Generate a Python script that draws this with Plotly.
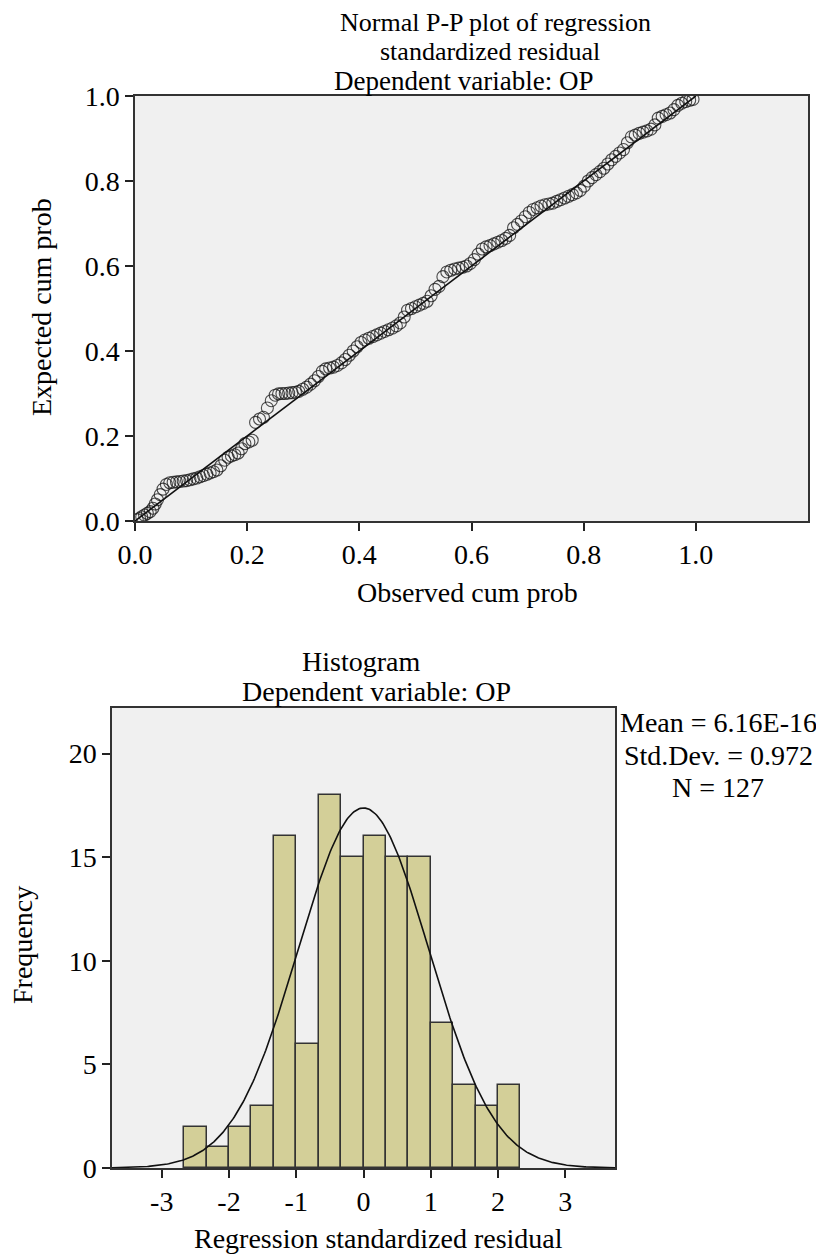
import numpy as np
import plotly.graph_objects as go

# ---------------- data ----------------
# Normal P-P plot: observed vs expected cumulative probabilities
PP_OBSERVED = [
    0.004, 0.008, 0.012, 0.017, 0.022, 0.027, 0.032, 0.036, 0.040, 0.045, 0.050,
    0.056, 0.062, 0.068, 0.074, 0.080, 0.086, 0.092, 0.098, 0.104, 0.110, 0.116,
    0.122, 0.128, 0.134, 0.140, 0.146,
    0.153, 0.160, 0.166, 0.172, 0.178, 0.184, 0.190, 0.196, 0.203, 0.209,
    0.215, 0.222, 0.229, 0.236, 0.243, 0.250, 0.256, 0.262, 0.268, 0.274, 0.280,
    0.286, 0.292,
    0.299, 0.306, 0.313, 0.320, 0.327, 0.334, 0.340, 0.347, 0.354, 0.361, 0.368,
    0.375, 0.382, 0.389, 0.396, 0.403, 0.410, 0.417, 0.424, 0.431, 0.438,
    0.445, 0.452, 0.459, 0.466, 0.473, 0.480, 0.486, 0.493, 0.500, 0.507, 0.514,
    0.521, 0.528, 0.535, 0.542, 0.549, 0.556, 0.563, 0.570, 0.577, 0.584, 0.591,
    0.598, 0.605, 0.612, 0.619, 0.626, 0.633, 0.640, 0.647, 0.654, 0.661, 0.668,
    0.675, 0.682, 0.689, 0.696, 0.703, 0.710, 0.717, 0.724, 0.731, 0.738, 0.745,
    0.752, 0.759, 0.766, 0.773, 0.780, 0.787, 0.794, 0.801, 0.808, 0.815, 0.822,
    0.829, 0.836, 0.843,
    0.850, 0.857, 0.864, 0.871, 0.878, 0.885, 0.892, 0.899, 0.906, 0.913, 0.920,
    0.927, 0.933, 0.940, 0.947, 0.954, 0.961, 0.968, 0.975, 0.982, 0.989, 0.995,
]
PP_EXPECTED = [
    0.003, 0.006, 0.010, 0.014, 0.018, 0.022, 0.030, 0.040, 0.050, 0.062, 0.075,
    0.086, 0.090, 0.091, 0.092, 0.093, 0.094, 0.095, 0.097, 0.099, 0.101, 0.104,
    0.107, 0.110, 0.113, 0.116, 0.120,
    0.130, 0.143, 0.150, 0.153, 0.156, 0.160, 0.170, 0.182, 0.186, 0.190,
    0.232, 0.240, 0.244, 0.266, 0.283, 0.296, 0.299, 0.300, 0.300, 0.301, 0.302,
    0.303, 0.305,
    0.310, 0.315, 0.322, 0.330, 0.340, 0.352, 0.358, 0.360, 0.362, 0.366, 0.372,
    0.380, 0.390, 0.400, 0.410, 0.420, 0.426, 0.430, 0.434, 0.438, 0.442,
    0.446, 0.450, 0.454, 0.459, 0.466, 0.480, 0.496, 0.500, 0.504, 0.508, 0.512,
    0.517, 0.530, 0.545, 0.552, 0.575, 0.586, 0.590, 0.593, 0.595, 0.597, 0.600,
    0.606, 0.615, 0.628, 0.640, 0.645, 0.648, 0.652, 0.656, 0.660, 0.665, 0.672,
    0.690, 0.698, 0.706, 0.716, 0.726, 0.733, 0.737, 0.741, 0.744, 0.746, 0.748,
    0.752, 0.756, 0.760, 0.764, 0.768, 0.772, 0.778, 0.788, 0.800, 0.808, 0.815,
    0.822, 0.830, 0.840,
    0.850, 0.858, 0.866, 0.874, 0.890, 0.904, 0.908, 0.912, 0.915, 0.918, 0.922,
    0.932, 0.948, 0.952, 0.956, 0.960, 0.968, 0.978, 0.983, 0.987, 0.990, 0.992,
]
PP_LINE = [0.0, 1.0]

PP_TICKS = [0.0, 0.2, 0.4, 0.6, 0.8, 1.0]
PP_TICK_TEXT = ["0.0", "0.2", "0.4", "0.6", "0.8", "1.0"]

# Histogram of regression standardized residuals
BIN_START = -8.0 / 3.0
BIN_WIDTH = 1.0 / 3.0
HIST_COUNTS = [2, 1, 2, 3, 16, 6, 18, 15, 16, 15, 15, 7, 4, 3, 4]
MEAN = 6.16e-16
STD_DEV = 0.972
N_OBS = 127

HIST_X_TICKS = [-3, -2, -1, 0, 1, 2, 3]
HIST_X_TEXT = ["-3", "-2", "-1", "0", "1", "2", "3"]
HIST_Y_TICKS = [0, 5, 10, 15, 20]
HIST_Y_TEXT = ["0", "5", "10", "15", "20"]

# ---------------- figure ----------------
# The page body adds an 8px margin, so the figure is drawn 8px smaller
OFF = 8
W, H = 824 - OFF, 1254 - OFF
FONT = "Liberation Serif"
FS = 28
BG = "#f0f0f0"


def px(x):
    return (x - OFF) / W


def py(y):
    return 1 - (y - OFF) / H


fig = go.Figure()

# P-P scatter
fig.add_trace(go.Scatter(
    x=PP_OBSERVED, y=PP_EXPECTED, mode="markers",
    marker=dict(symbol="circle-open", size=12, color="rgba(20,20,20,0.75)",
                line=dict(width=1.1, color="rgba(20,20,20,0.75)")),
    xaxis="x", yaxis="y", showlegend=False, hoverinfo="skip",
))
fig.add_trace(go.Scatter(
    x=PP_LINE, y=PP_LINE, mode="lines",
    line=dict(color="#111111", width=1.6),
    xaxis="x", yaxis="y", showlegend=False, hoverinfo="skip",
))

# Histogram bars
centers = [BIN_START + BIN_WIDTH * (i + 0.5) for i in range(len(HIST_COUNTS))]
fig.add_trace(go.Bar(
    x=centers, y=HIST_COUNTS, width=BIN_WIDTH,
    marker=dict(color="#d3cf98", line=dict(color="#333333", width=1.5)),
    xaxis="x2", yaxis="y2", showlegend=False, hoverinfo="skip",
))

# Fitted normal curve from the reported Mean / Std.Dev. / N
xc = np.linspace(-3.74, 3.74, 400)
yc = N_OBS * BIN_WIDTH * np.exp(-0.5 * ((xc - MEAN) / STD_DEV) ** 2) / (STD_DEV * np.sqrt(2 * np.pi))
fig.add_trace(go.Scatter(
    x=xc, y=yc, mode="lines", line=dict(color="#111111", width=1.6),
    xaxis="x2", yaxis="y2", showlegend=False, hoverinfo="skip",
))

axis_common = dict(
    showline=True, mirror=True, linecolor="#333333", linewidth=1.5,
    showgrid=False, zeroline=False, ticks="outside", ticklen=8, tickwidth=1.5,
    tickcolor="#222222", tickfont=dict(family=FONT, size=FS, color="black"),
    automargin=False,
)

fig.update_layout(
    width=W, height=H,
    margin=dict(l=0, r=0, t=0, b=0),
    paper_bgcolor="white",
    plot_bgcolor=BG,
    bargap=0,
    font=dict(family=FONT, size=FS, color="black"),
    xaxis=dict(domain=[px(135), px(808)], range=[0, 1.2], anchor="y",
               tickvals=PP_TICKS, ticktext=PP_TICK_TEXT, **axis_common),
    yaxis=dict(domain=[py(521), py(96)], range=[0, 1.0], anchor="x",
               tickvals=PP_TICKS, ticktext=PP_TICK_TEXT, **axis_common),
    xaxis2=dict(domain=[px(112), px(615)], range=[-3.74, 3.74], anchor="y2",
                tickvals=HIST_X_TICKS, ticktext=HIST_X_TEXT, **axis_common),
    yaxis2=dict(domain=[py(1168), py(708)], range=[0, 22.2], anchor="x2",
                tickvals=HIST_Y_TICKS, ticktext=HIST_Y_TEXT, **axis_common),
)

texts = [
    ("Normal P-P plot of regression", 495, 22.6, 0, 26),
    ("standardized residual", 490, 51.5, 0, 26),
    ("Dependent variable: OP", 463, 81, 0, 27),
    ("Observed cum prob", 467, 592, 0, 28),
    ("Expected cum prob", 42, 307, -90, 28),
    ("Histogram", 361, 661, 0, 28),
    ("Dependent variable: OP", 376, 691, 0, 28),
    ("Mean = 6.16E-16", 718, 722, 0, 28),
    ("Std.Dev. = 0.972", 718, 755, 0, 28),
    ("N = 127", 718, 787, 0, 28),
    ("Frequency", 22, 945, -90, 28),
    ("Regression standardized residual", 378, 1238, 0, 28),
]
for t, x, y, ang, fs in texts:
    fig.add_annotation(
        text=t, x=px(x), y=py(y), xref="paper", yref="paper",
        xanchor="center", yanchor="middle", showarrow=False, textangle=ang,
        font=dict(family=FONT, size=fs, color="black"),
    )

fig.write_html("out.html")
